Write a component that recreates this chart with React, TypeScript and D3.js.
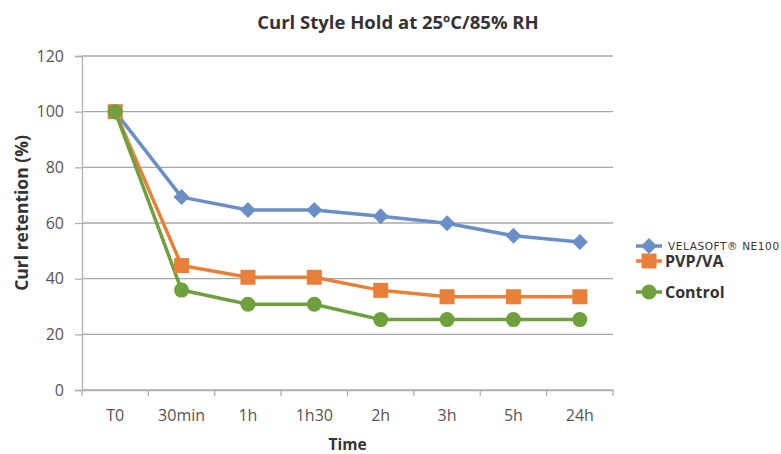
import * as d3 from 'd3';
import React, { useRef, useEffect } from 'react';

const categories = ['T0', '30min', '1h', '1h30', '2h', '3h', '5h', '24h'];
const velasoft = [100, 69.3, 64.7, 64.7, 62.4, 59.9, 55.4, 53.2];
const pvpva = [100, 44.7, 40.5, 40.5, 35.8, 33.5, 33.5, 33.5];
const control = [100, 35.9, 30.8, 30.8, 25.3, 25.3, 25.3, 25.3];
const yTicks = [0, 20, 40, 60, 80, 100, 120];

const series = [
  { name: 'VELASOFT® NE100', values: velasoft, color: '#6A8FC6', shape: 'diamond' },
  { name: 'PVP/VA', values: pvpva, color: '#E8803A', shape: 'square' },
  { name: 'Control', values: control, color: '#6FA03E', shape: 'circle' },
];

function App() {
  const ref = useRef<SVGSVGElement>(null);
  const width = 781;
  const height = 454;

  useEffect(() => {
    const svg = d3.select(ref.current);
    svg.selectAll('*').remove();

    const left = 82, right = 613, top = 56, bottom = 390;
    const font = '"Open Sans", Arial, sans-serif';

    const x = d3.scaleBand().domain(categories).range([left, right]);
    const y = d3.scaleLinear().domain([0, 120]).range([bottom, top]);

    // grid
    svg.append('g')
      .selectAll('line')
      .data(yTicks)
      .enter()
      .append('line')
      .attr('x1', left)
      .attr('x2', right)
      .attr('y1', (d) => y(d))
      .attr('y2', (d) => y(d))
      .attr('stroke', (d) => (d === 0 ? '#B0B0B0' : '#A8A8A8'))
      .attr('stroke-width', 1.3);

    // y axis
    const yAxis = svg.append('g')
      .attr('transform', `translate(${left},0)`)
      .call(d3.axisLeft(y).tickValues(yTicks).tickSize(7).tickPadding(11));
    yAxis.select('.domain').attr('stroke', '#B0B0B0').attr('stroke-width', 1.3);
    yAxis.selectAll('.tick line').attr('stroke', '#B0B0B0').attr('stroke-width', 1.3);
    yAxis.selectAll('.tick text')
      .attr('font-family', font)
      .attr('font-size', 16)
      .attr('fill', '#555');

    // x axis
    const xAxis = svg.append('g')
      .attr('transform', `translate(0,${bottom})`)
      .call(d3.axisBottom(x).tickSize(0).tickPadding(20));
    xAxis.select('.domain').attr('stroke', '#B0B0B0').attr('stroke-width', 1.3);
    xAxis.selectAll('.tick text')
      .attr('font-family', font)
      .attr('font-size', 16)
      .attr('fill', '#555');
    xAxis.selectAll('line.sep')
      .data(d3.range(categories.length + 1))
      .enter()
      .append('line')
      .attr('x1', (i) => left + i * x.step())
      .attr('x2', (i) => left + i * x.step())
      .attr('y1', 0)
      .attr('y2', 6)
      .attr('stroke', '#B0B0B0')
      .attr('stroke-width', 1.3);

    const cx = (c: string) => (x(c) as number) + x.bandwidth() / 2;

    const line = d3.line<number>()
      .x((d, i) => cx(categories[i]))
      .y((d) => y(d));

    const marker = (g: any, shape: string, color: string, px: number, py: number) => {
      if (shape === 'diamond') {
        g.append('path')
          .attr('d', `M${px},${py - 8}L${px + 8},${py}L${px},${py + 8}L${px - 8},${py}Z`)
          .attr('fill', color);
      } else if (shape === 'square') {
        g.append('rect')
          .attr('x', px - 7.5).attr('y', py - 7.5)
          .attr('width', 15).attr('height', 15)
          .attr('fill', color);
      } else {
        g.append('circle').attr('cx', px).attr('cy', py).attr('r', 7.5).attr('fill', color);
      }
    };

    series.forEach((s) => {
      svg.append('path')
        .datum(s.values)
        .attr('d', line)
        .attr('fill', 'none')
        .attr('stroke', s.color)
        .attr('stroke-width', 3.5)
        .attr('stroke-linejoin', 'round');
    });
    series.forEach((s) => {
      const g = svg.append('g');
      s.values.forEach((v, i) => marker(g, s.shape, s.color, cx(categories[i]), y(v)));
    });

    // title
    svg.append('text')
      .attr('x', 398).attr('y', 29)
      .attr('text-anchor', 'middle')
      .attr('font-family', font)
      .attr('font-weight', 'bold')
      .attr('font-size', 18.5)
      .attr('fill', '#333')
      .text('Curl Style Hold at 25ºC/85% RH');

    svg.append('text')
      .attr('transform', 'translate(28,213) rotate(-90)')
      .attr('text-anchor', 'middle')
      .attr('font-family', font)
      .attr('font-weight', 'bold')
      .attr('font-size', 17.5)
      .attr('fill', '#333')
      .text('Curl retention (%)');

    svg.append('text')
      .attr('x', (left + right) / 2).attr('y', 450)
      .attr('text-anchor', 'middle')
      .attr('font-family', font)
      .attr('font-weight', 'bold')
      .attr('font-size', 15.5)
      .attr('fill', '#333')
      .text('Time');

    // legend
    const legendY = [246, 261, 292];
    series.forEach((s, i) => {
      const g = svg.append('g');
      const ly = legendY[i];
      g.append('line')
        .attr('x1', 636).attr('x2', 662)
        .attr('y1', ly).attr('y2', ly)
        .attr('stroke', s.color).attr('stroke-width', 3.5);
      marker(g, s.shape, s.color, 649, ly);
      g.append('text')
        .attr('x', i === 0 ? 668 : 665)
        .attr('y', ly + (i === 0 ? 4 : 6))
        .attr('font-family', i === 0 ? '"DejaVu Sans", sans-serif' : font)
        .attr('font-weight', i === 0 ? 'normal' : 'bold')
        .attr('font-size', i === 0 ? 10.5 : 16)
        .attr('letter-spacing', i === 0 ? 0.6 : 0)
        .attr('fill', '#333')
        .text(s.name);
    });
  }, []);

  return (
    <div className="chart">
      <svg ref={ref} width={width} height={height} style={{ position: 'absolute', left: 0, top: 0, background: '#fff' }}></svg>
    </div>
  );
}

export default App;
